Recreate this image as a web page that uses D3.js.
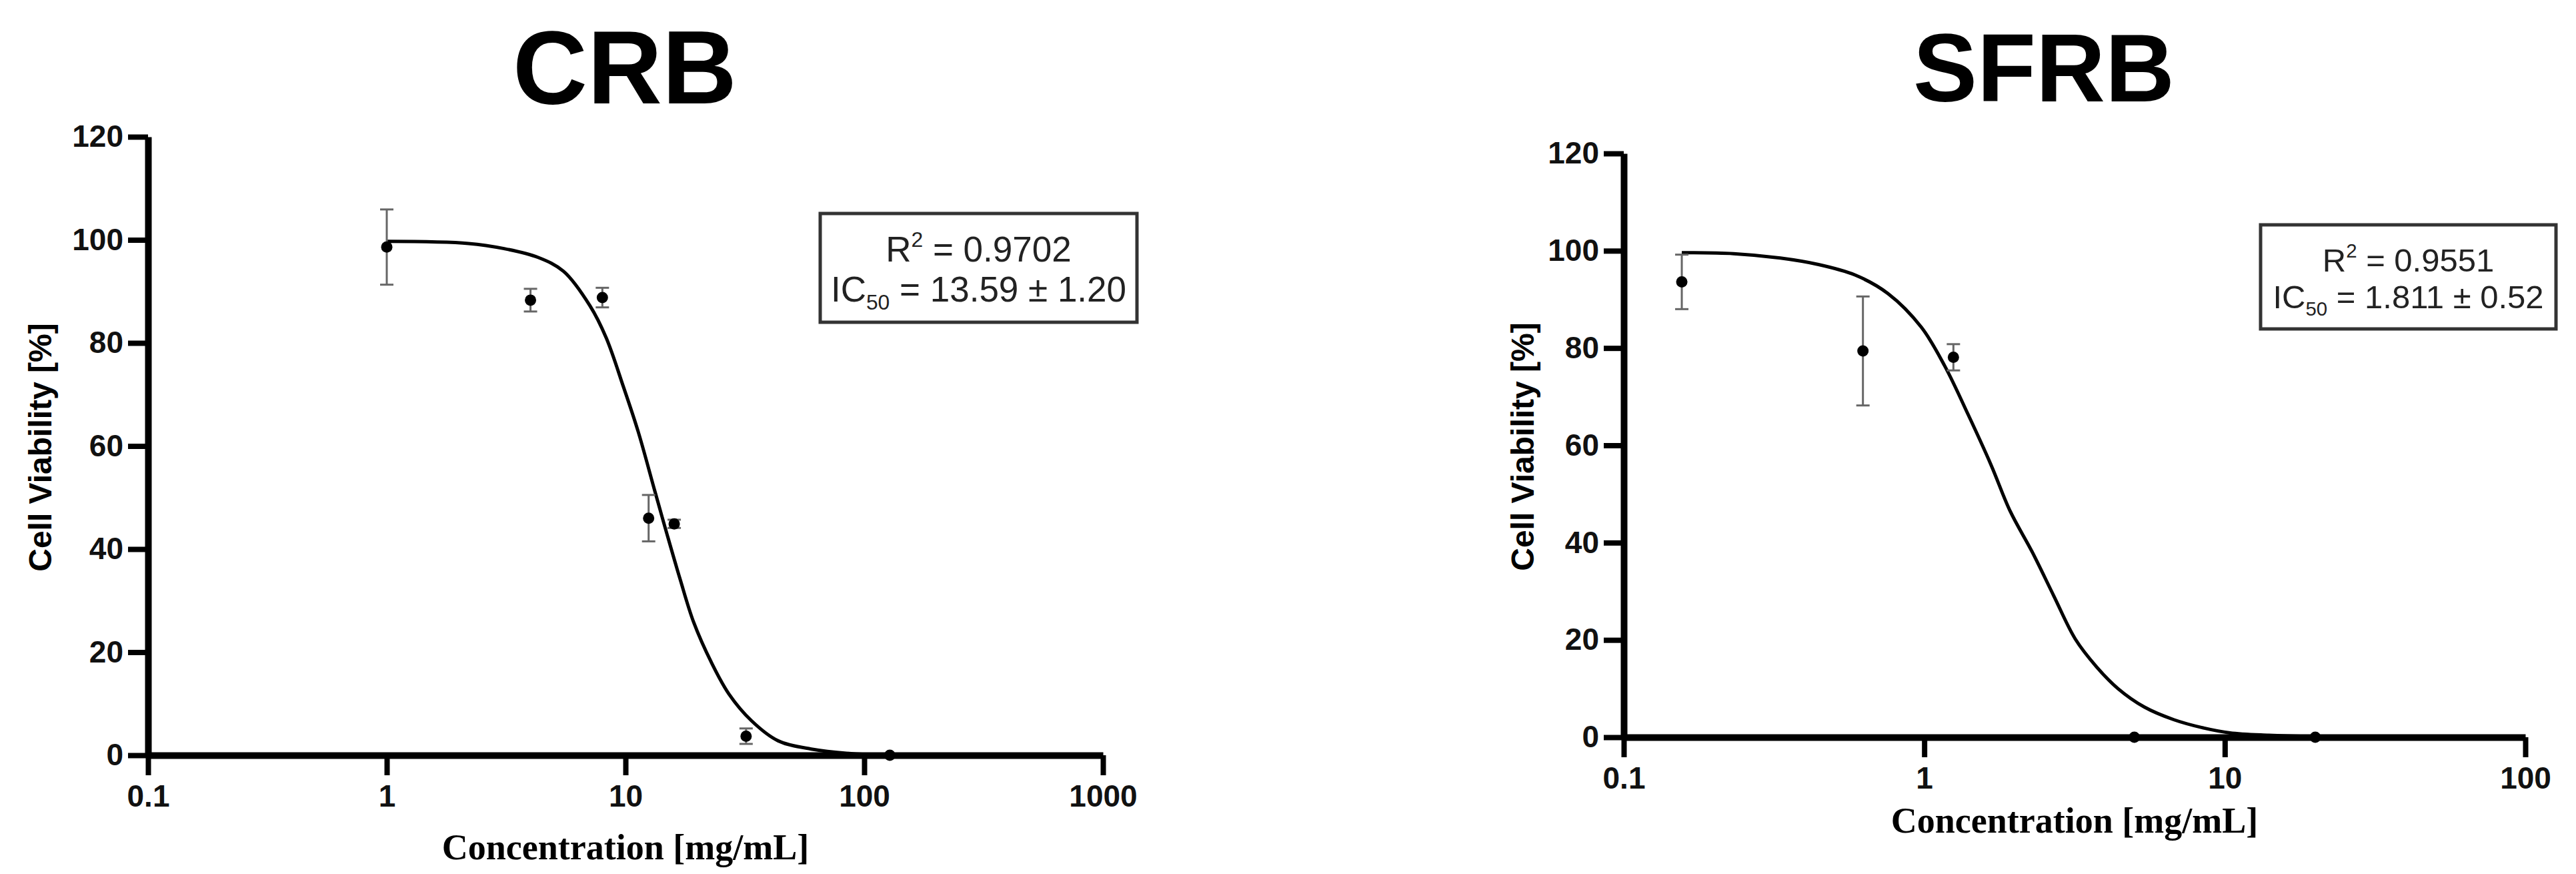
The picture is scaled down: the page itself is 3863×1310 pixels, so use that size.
<!DOCTYPE html>
<html>
<head>
<meta charset="utf-8">
<style>
  body { margin: 0; background: #fff; }
  svg { display: block; }
</style>
</head>
<body>
<svg width="3863" height="1310"></svg>
<script src="https://d3js.org/d3.v7.min.js"></script>
<script>

// CRB data (mean +/- SD)
var crbConc = [1, 4, 8, 12.5, 16, 32, 128];
var crbMean = [98.6, 88.3, 88.8, 46.0, 44.9, 3.7, 0];
var crbSd   = [7.3, 2.2, 1.9, 4.5, 0.8, 1.5, 0];

// CRB fitted curve
var crbFitConc = [1.0, 2.2, 3.1, 4.3, 5.5, 7.1, 8.3, 9.8, 11.3, 13.3, 14.9, 16.9, 19.3, 22.9, 27.1, 33.7, 43.6, 60, 92, 128];
var crbFitVal  = [99.7, 99.3, 98.3, 96.6, 93.9, 87.2, 81.0, 71.5, 62.8, 51.1, 43.0, 34.3, 25.8, 18.0, 11.9, 6.7, 2.8, 1.2, 0.26, 0.05];

// SFRB data
var sfrbConc = [0.156, 0.625, 1.25, 5, 20];
var sfrbMean = [93.6, 79.4, 78.1, 0, 0];
var sfrbSd   = [5.6, 11.2, 2.7, 0, 0];

// SFRB fitted curve
var sfrbFitConc = [0.156, 0.232, 0.332, 0.442, 0.589, 0.757, 0.977, 1.17, 1.40, 1.67, 1.93, 2.29, 2.7, 3.18, 3.74, 4.41, 5.4, 6.77, 8.5, 10.4, 14, 20];
var sfrbFitVal  = [99.6, 99.4, 98.5, 97.2, 95.0, 91.2, 84.3, 76.3, 66.3, 55.9, 46.5, 38.0, 29.0, 20.2, 14.5, 10.0, 6.2, 3.6, 1.9, 0.9, 0.4, 0.1];

var yTicks = [0, 20, 40, 60, 80, 100, 120];
var crbXTicks = [0.1, 1, 10, 100, 1000];
var sfrbXTicks = [0.1, 1, 10, 100];

var svg = d3.select("svg");

function panel(o) {
  var x = d3.scaleLog().domain(o.xDomain).range([o.left, o.right]);
  var y = d3.scaleLinear().domain([0, 120]).range([o.bottom, o.top]);
  var g = svg.append("g");

  g.append("text")
      .attr("x", o.titleX)
      .attr("y", o.titleY)
      .attr("text-anchor", "middle")
      .attr("font-family", "Liberation Sans, Arial, sans-serif")
      .attr("font-weight", "bold")
      .attr("font-size", o.titleSize)
      .text(o.title);

  var xa = g.append("g")
      .attr("transform", "translate(0," + o.bottom + ")")
      .call(d3.axisBottom(x)
        .tickValues(o.xTicks)
        .tickFormat(function(d) { return String(d); })
        .tickSize(30).tickSizeOuter(0).tickPadding(14));

  var ya = g.append("g")
      .attr("transform", "translate(" + o.left + ",0)")
      .call(d3.axisLeft(y)
        .tickValues(yTicks)
        .tickSize(30).tickSizeOuter(0).tickPadding(7));

  [xa, ya].forEach(function(a) {
    a.select(".domain").attr("stroke", "#000").attr("stroke-width", 10);
    a.selectAll(".tick line").attr("stroke", "#000").attr("stroke-width", 8);
    a.selectAll(".tick text")
        .attr("fill", "#111")
        .attr("font-family", "Liberation Sans, Arial, sans-serif")
        .attr("font-weight", "bold")
        .attr("font-size", 46);
  });

  g.append("text")
      .attr("x", (o.left + o.right) / 2)
      .attr("y", o.xTitleY)
      .attr("text-anchor", "middle")
      .attr("font-family", "Liberation Serif, Times New Roman, serif")
      .attr("font-weight", "bold")
      .attr("font-size", 54)
      .text("Concentration [mg/mL]");

  g.append("text")
      .attr("transform", "translate(" + o.yTitleX + "," + ((o.top + o.bottom) / 2 + 2) + ") rotate(-90)")
      .attr("text-anchor", "middle")
      .attr("dy", "0.35em")
      .attr("font-family", "Liberation Sans, Arial, sans-serif")
      .attr("font-weight", "bold")
      .attr("font-size", 48)
      .text("Cell Viability [%]");

  // fitted curve
  var line = d3.line()
      .x(function(d) { return x(d[0]); })
      .y(function(d) { return y(d[1]); })
      .curve(d3.curveCatmullRom.alpha(0.5));

  g.append("path")
      .datum(d3.zip(o.fitConc, o.fitVal))
      .attr("fill", "none")
      .attr("stroke", "#000")
      .attr("stroke-width", 5)
      .attr("d", line);

  // error bars
  var pts = d3.zip(o.conc, o.mean, o.sd);
  var eb = g.append("g").attr("stroke", "#666").attr("stroke-width", 3);
  pts.filter(function(d) { return d[2] > 0; }).forEach(function(d) {
    var cx = x(d[0]);
    eb.append("line").attr("x1", cx).attr("x2", cx)
        .attr("y1", y(d[1] - d[2])).attr("y2", y(d[1] + d[2]));
    eb.append("line").attr("x1", cx - 10).attr("x2", cx + 10)
        .attr("y1", y(d[1] + d[2])).attr("y2", y(d[1] + d[2]));
    eb.append("line").attr("x1", cx - 10).attr("x2", cx + 10)
        .attr("y1", y(d[1] - d[2])).attr("y2", y(d[1] - d[2]));
  });

  g.selectAll("circle.pt")
    .data(pts)
    .enter().append("circle")
      .attr("class", "pt")
      .attr("cx", function(d) { return x(d[0]); })
      .attr("cy", function(d) { return y(d[1]); })
      .attr("r", 8.5)
      .attr("fill", "#000");

  // stats box
  var b = o.box;
  g.append("rect")
      .attr("x", b.x).attr("y", b.y)
      .attr("width", b.w).attr("height", b.h)
      .attr("fill", "#fff")
      .attr("stroke", "#333")
      .attr("stroke-width", 5);

  var t1 = g.append("text")
      .attr("x", b.x + b.w / 2).attr("y", b.line1)
      .attr("text-anchor", "middle")
      .attr("font-family", "Liberation Sans, Arial, sans-serif")
      .attr("font-size", b.fs)
      .attr("fill", "#222");
  t1.append("tspan").text("R");
  t1.append("tspan").attr("font-size", b.fs * 0.6).attr("dy", -b.fs * 0.42).text("2");
  t1.append("tspan").attr("dy", b.fs * 0.42).text(" = " + o.r2);

  var t2 = g.append("text")
      .attr("x", b.x + b.w / 2).attr("y", b.line2)
      .attr("text-anchor", "middle")
      .attr("font-family", "Liberation Sans, Arial, sans-serif")
      .attr("font-size", b.fs)
      .attr("fill", "#222");
  t2.append("tspan").text("IC");
  t2.append("tspan").attr("font-size", b.fs * 0.6).attr("dy", b.fs * 0.22).text("50");
  t2.append("tspan").attr("dy", -b.fs * 0.22).text(" = " + o.ic50);
}

panel({
  title: "CRB", titleX: 937, titleY: 155, titleSize: 155,
  xDomain: [0.1, 1000], xTicks: crbXTicks,
  left: 222, right: 1654, top: 205, bottom: 1132,
  xTitleY: 1288, yTitleX: 60,
  conc: crbConc, mean: crbMean, sd: crbSd,
  fitConc: crbFitConc, fitVal: crbFitVal,
  r2: "0.9702", ic50: "13.59 \u00B1 1.20",
  box: { x: 1230, y: 320, w: 475, h: 163, line1: 392, line2: 452, fs: 53 }
});

panel({
  title: "SFRB", titleX: 3065, titleY: 152, titleSize: 144,
  xDomain: [0.1, 100], xTicks: sfrbXTicks,
  left: 2435, right: 3787, top: 230, bottom: 1105,
  xTitleY: 1248, yTitleX: 2283,
  conc: sfrbConc, mean: sfrbMean, sd: sfrbSd,
  fitConc: sfrbFitConc, fitVal: sfrbFitVal,
  r2: "0.9551", ic50: "1.811 \u00B1 0.52",
  box: { x: 3390, y: 337, w: 443, h: 156, line1: 407, line2: 462, fs: 49 }
});

</script>
</body>
</html>
